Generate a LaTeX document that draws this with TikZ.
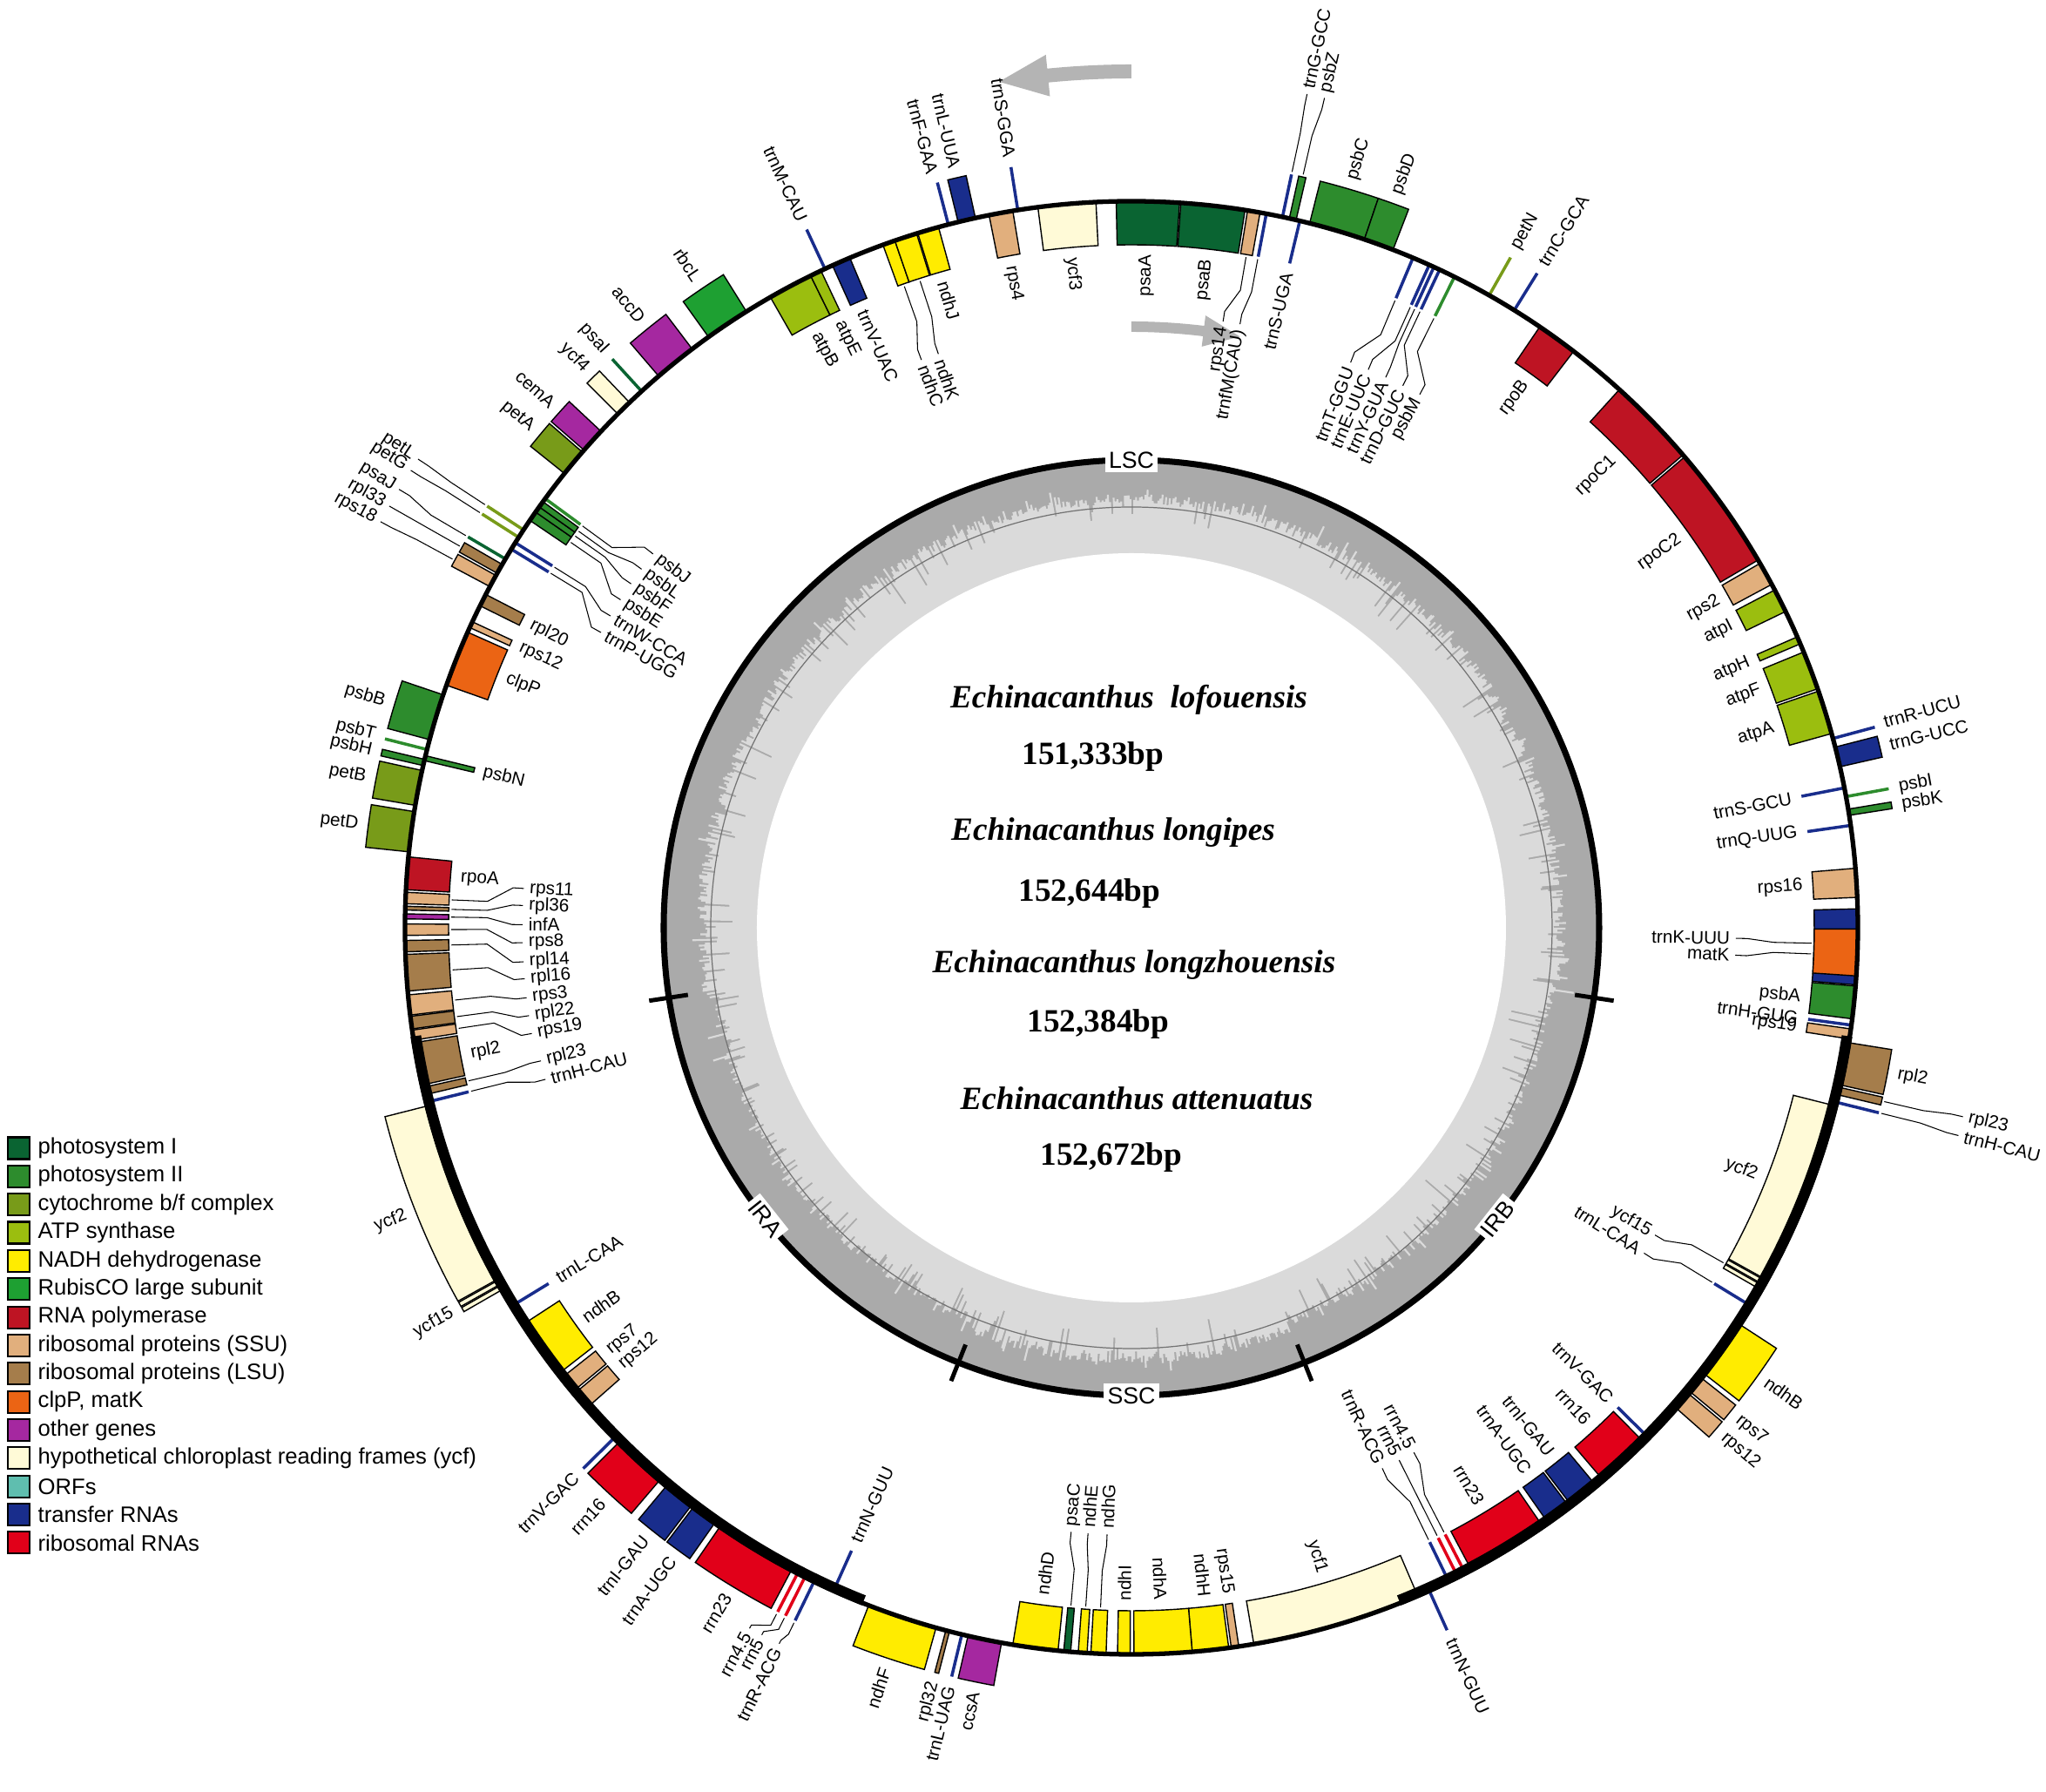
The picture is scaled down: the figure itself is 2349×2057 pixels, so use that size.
\documentclass[tikz,border=0pt]{standalone}
\usepackage{fontspec}
\setmainfont{Liberation Sans}
\newfontfamily\tnrfont{Liberation Serif}
\definecolor{cPSI}{RGB}{10,100,50}
\definecolor{cPSII}{RGB}{45,140,45}
\definecolor{cCYT}{RGB}{120,155,25}
\definecolor{cATP}{RGB}{155,190,15}
\definecolor{cNDH}{RGB}{255,236,0}
\definecolor{cRBC}{RGB}{30,160,50}
\definecolor{cRPO}{RGB}{190,20,35}
\definecolor{cSSU}{RGB}{225,175,125}
\definecolor{cLSU}{RGB}{165,125,75}
\definecolor{cCLP}{RGB}{235,100,20}
\definecolor{cOTH}{RGB}{165,40,160}
\definecolor{cYCF}{RGB}{255,250,215}
\definecolor{cORF}{RGB}{95,190,175}
\definecolor{cTRN}{RGB}{25,45,140}
\definecolor{cRRN}{RGB}{225,0,25}
\definecolor{gcdark}{RGB}{170,170,170}
\definecolor{gclight}{RGB}{218,218,218}
\definecolor{arrgray}{RGB}{180,180,180}
\tikzset{
 gbox/.style={draw=black,line width=0.4pt},
 gline/.style={line width=1pt},
 glead/.style={draw=black,line width=0.3pt},
 glab/.style={font=\fontsize{5.9}{6}\selectfont,inner sep=0.6pt},
 reglab/.style={font=\fontsize{7.6}{8}\selectfont,fill=white,inner sep=1.2pt},
 legbox/.style={draw=black,line width=0.6pt},
 legtxt/.style={font=\fontsize{7.3}{8}\selectfont,anchor=west,inner sep=0pt},
 sptxt/.style={font=\tnrfont\bfseries\itshape\fontsize{10.6}{12}\selectfont},
 bptxt/.style={font=\tnrfont\bfseries\fontsize{10.6}{12}\selectfont},
}
% gene box with explicit radii
\newcommand\gnBr[5]{\filldraw[gbox,fill=#5] ({90-(#1)}:#3) arc[start angle={90-(#1)},end angle={90-(#2)},radius=#3] -- ({90-(#2)}:#4) arc[start angle={90-(#2)},end angle={90-(#1)},radius=#4] -- cycle;}
% gene box: start, end, side (o/i), colour
\newcommand\gnB[4]{\ifx o#3\relax\gnBr{#1}{#2}{834}{884}{#4}\else\gnBr{#1}{#2}{784}{834}{#4}\fi}
% gene line: angle, side, colour
\newcommand\gnL[3]{\ifx o#2\relax\draw[gline,#3] ({90-(#1)}:836) -- ({90-(#1)}:884);\else\draw[gline,#3] ({90-(#1)}:784) -- ({90-(#1)}:832);\fi}
% label at angle, radius, side, text
\newcommand\lbAt[4]{%
 \pgfmathsetmacro\gTh{mod(#1+720,360)}%
 \pgfmathsetmacro\gRot{\gTh<180 ? 90-\gTh : 270-\gTh}%
 \ifx o#3\relax\def\gSd{1}\else\def\gSd{0}\fi
 \pgfmathtruncatemacro\gW{(\gTh<180)==\gSd}%
 \ifnum\gW=1 \def\gAn{west}\else\def\gAn{east}\fi
 \node[glab,rotate=\gRot,anchor=\gAn] at ({90-(#1)}:#2) {#4};}
% direct label
\newcommand\lbD[3]{\ifx o#2\relax\lbAt{#1}{893}{o}{#3}\else\lbAt{#1}{775}{i}{#3}\fi}
% leader label: gene angle, side, label angle, label radius, text
\newcommand\lbL[5]{%
 \ifx o#2\relax\def\gRz{887}\pgfmathsetmacro\gRt{#4-4}\else\def\gRz{781}\pgfmathsetmacro\gRt{#4+4}\fi
 \pgfmathsetmacro\gRi{\gRz+0.5*(\gRt-\gRz)}%
 \pgfmathsetmacro\gRj{\gRz+0.85*(\gRt-\gRz)}%
 \draw[glead] ({90-(#1)}:\gRz) -- ({90-(#1)}:\gRi) -- ({90-(#3)}:\gRj) -- ({90-(#3)}:\gRt);
 \lbAt{#3}{#4}{#2}{#5}}
\begin{document}
\begin{tikzpicture}[x=0.1mm,y=0.1mm]
\useasboundingbox (-1299,-992) rectangle (1050,1065);
% ---------- GC ring ----------
\pgfmathsetseed{11}
\fill[gcdark] (0,0) circle[radius=537];
\fill[gclight] (90:493) \foreach \t in {0,0.25,...,359.75}{ \pgfextra{\pgfmathsetmacro\gcrtmp{493-8*((\t>98.6)*(\t<158.3)+(\t>201.7)*(\t<261.4))+2*(\t>158.3)*(\t<201.7)+6*rand-36*rnd^9+16*rnd^14}\xdef\gcr{\gcrtmp}} -- ({90-\t}:\gcr) -- ({90-\t-0.25}:\gcr) } -- cycle;
\fill[white] (0,0) circle[radius=430];
\draw[black!55,line width=0.35pt] (0,0) circle[radius=483];
\draw[line width=2pt] (0,0) circle[radius=537];
\foreach \a in {98.6,158.3,201.7,261.4} \draw[line width=1.4pt] ({90-\a}:515) -- ({90-\a}:560);
\node[reglab] at (90:537) {LSC};
\node[reglab] at (-90:537) {SSC};
\node[reglab,rotate=-51.55] at ({90-231.55}:537) {IRA};
\node[reglab,rotate=51.55] at ({90-128.45}:537) {IRB};
% ---------- arrows ----------
\fill[arrgray] (90:975) arc[start angle=90,end angle=95.6,radius=975] -- (95.6:959) -- (98.9:983) -- (95.6:1007) -- (95.6:991) arc[start angle=95.6,end angle=90,radius=991] -- cycle;
\fill[arrgray] (90:684) arc[start angle=90,end angle=83.1,radius=684] -- (83.1:672) -- (79.6:690) -- (83.1:708) -- (83.1:696) arc[start angle=83.1,end angle=90,radius=696] -- cycle;
% ---------- LSC right ----------
\gnB{-1.2}{3.8}{i}{cPSI} \lbD{1.3}{i}{psaA}
\gnB{3.9}{9.0}{i}{cPSI} \lbD{6.45}{i}{psaB}
\gnB{9.2}{10.2}{i}{cSSU} \lbL{9.7}{i}{8.6}{700}{rps14}
\gnL{10.7}{i}{cTRN} \lbL{10.7}{i}{10.2}{700}{trnfM(CAU)}
\gnL{12.0}{o}{cTRN} \lbL{12.0}{o}{11.9}{982}{trnG-GCC}
\gnB{12.55}{13.1}{o}{cPSII} \lbL{12.85}{o}{13.1}{982}{psbZ}
\gnL{13.4}{i}{cTRN} \lbD{13.4}{i}{trnS-UGA}
\gnB{14.2}{18.7}{o}{cPSII} \lbD{16.45}{o}{psbC}
\gnB{18.7}{21.1}{o}{cPSII} \lbD{19.9}{o}{psbD}
\gnL{22.8}{i}{cTRN} \lbL{22.8}{i}{21.2}{692}{trnT-GGU}
\gnL{24.2}{i}{cTRN} \lbL{24.2}{i}{23.0}{692}{trnE-UUC}
\gnL{24.6}{i}{cTRN} \lbL{24.6}{i}{24.8}{692}{trnY-GUA}
\gnL{25.1}{i}{cTRN} \lbL{25.1}{i}{26.6}{692}{trnD-GUC}
\gnL{26.4}{i}{cPSII} \lbL{26.4}{i}{28.4}{692}{psbM}
\gnL{29.5}{o}{cCYT} \lbD{29.5}{o}{petN}
\gnL{31.8}{o}{cTRN} \lbD{31.8}{o}{trnC-GCA}
\gnB{34.2}{37.5}{i}{cRPO} \lbD{35.85}{i}{rpoB}
\gnB{42.2}{49.4}{i}{cRPO} \lbD{45.8}{i}{rpoC1}
\gnB{49.6}{59.6}{i}{cRPO} \lbD{54.6}{i}{rpoC2}
\gnB{59.9}{61.8}{i}{cSSU} \lbD{60.85}{i}{rps2}
\gnB{62.3}{64.2}{i}{cATP} \lbD{63.25}{i}{atpI}
\gnB{66.4}{67.0}{i}{cATP} \lbD{66.7}{i}{atpH}
\gnB{67.7}{70.8}{i}{cATP} \lbD{69.25}{i}{atpF}
\gnB{71.0}{74.5}{i}{cATP} \lbD{72.75}{i}{atpA}
\gnL{74.9}{o}{cTRN} \lbD{74.7}{o}{trnR-UCU}
\gnB{75.6}{77.2}{o}{cTRN} \lbD{76.4}{o}{trnG-UCC}
\gnL{78.9}{i}{cTRN} \lbD{78.9}{i}{trnS-GCU}
\gnL{79.6}{o}{cPSII} \lbD{79.6}{o}{psbI}
\gnB{80.6}{81.1}{o}{cPSII} \lbD{80.9}{o}{psbK}
\gnL{81.9}{i}{cTRN} \lbD{81.9}{i}{trnQ-UUG}
\gnB{85.3}{87.6}{i}{cSSU} \lbD{86.45}{i}{rps16}
\gnB{88.5}{94.5}{i}{cTRN} \gnB{90.1}{93.8}{i}{cCLP}
\lbL{91.3}{i}{91.0}{690}{trnK-UUU} \lbL{92.2}{i}{92.6}{690}{matK}
\gnB{94.6}{97.2}{i}{cPSII} \lbD{95.9}{i}{psbA}
\gnL{97.7}{i}{cTRN} \lbD{97.7}{i}{trnH-GUG}
\gnB{98.0}{98.8}{i}{cSSU} \lbD{98.5}{i}{rps19}
% ---------- IRb ----------
\gnB{99.1}{102.5}{o}{cLSU} \lbD{100.8}{o}{rpl2}
\gnB{102.7}{103.3}{o}{cLSU} \lbL{103.0}{o}{102.8}{983}{rpl23}
\gnL{103.9}{o}{cTRN} \lbL{103.9}{o}{104.1}{983}{trnH-CAU}
\gnB{104.2}{119.0}{i}{cYCF} \lbD{111.6}{i}{ycf2}
\gnB{119.1}{119.45}{i}{cYCF} \gnB{119.55}{119.9}{i}{cYCF}
\lbL{119.5}{i}{120.4}{693}{ycf15}
\gnL{121.4}{i}{cTRN} \lbL{121.4}{i}{122.4}{693}{trnL-CAA}
\gnB{123.1}{127.9}{o}{cNDH} \lbD{125.5}{o}{ndhB}
\gnB{128.3}{129.7}{o}{cSSU} \lbD{129.0}{o}{rps7}
\gnB{129.9}{131.4}{o}{cSSU} \lbD{130.65}{o}{rps12}
\gnL{134.6}{i}{cTRN} \lbD{134.6}{i}{trnV-GAC}
\gnB{135.1}{139.5}{i}{cRRN} \lbD{137.3}{i}{rrn16}
\gnB{140.2}{142.7}{i}{cTRN} \lbD{141.45}{i}{trnI-GAU}
\gnB{142.9}{145.0}{i}{cTRN} \lbD{143.95}{i}{trnA-UGC}
\gnB{145.5}{152.1}{i}{cRRN} \lbD{148.8}{i}{rrn23}
\gnL{152.65}{i}{cRRN} \lbL{152.65}{i}{151.7}{680}{rrn4.5}
\gnL{153.3}{i}{cRRN} \lbL{153.3}{i}{153.3}{680}{rrn5}
\gnL{154.1}{i}{cTRN} \lbL{154.1}{i}{155.1}{680}{trnR-ACG}
\gnL{155.8}{o}{cTRN} \lbD{155.8}{o}{trnN-GUU}
% ---------- SSC ----------
\gnB{156.8}{170.3}{i}{cYCF} \lbD{163.55}{i}{ycf1}
\gnB{171.5}{172.1}{i}{cSSU} \lbD{171.8}{i}{rps15}
\gnB{172.3}{175.2}{i}{cNDH} \lbD{173.75}{i}{ndhH}
\gnB{175.2}{179.8}{i}{cNDH} \lbD{177.5}{i}{ndhA}
\gnB{180.1}{181.1}{i}{cNDH} \lbD{180.6}{i}{ndhI}
\gnB{182.0}{183.2}{i}{cNDH} \lbL{182.6}{i}{182.3}{693}{ndhG}
\gnB{183.5}{184.2}{i}{cNDH} \lbL{183.85}{i}{184.1}{693}{ndhE}
\gnB{184.8}{185.35}{i}{cPSI} \lbL{185.1}{i}{185.7}{693}{psaC}
\gnB{185.8}{189.4}{i}{cNDH} \lbD{187.6}{i}{ndhD}
\gnB{190.3}{193.0}{o}{cOTH} \lbD{191.65}{o}{ccsA}
\gnL{193.5}{o}{cTRN} \lbD{193.5}{o}{trnL-UAG}
\gnB{194.5}{194.8}{o}{cLSU} \lbD{194.7}{o}{rpl32}
\gnB{195.6}{201.2}{o}{cNDH} \lbD{198.4}{o}{ndhF}
% ---------- IRa ----------
\gnL{204.2}{i}{cTRN} \lbD{204.2}{i}{trnN-GUU}
\gnL{205.9}{o}{cTRN} \lbL{205.9}{o}{206.2}{920}{trnR-ACG}
\gnL{206.7}{o}{cRRN} \lbL{206.7}{o}{207.6}{920}{rrn5}
\gnL{207.35}{o}{cRRN} \lbL{207.35}{o}{208.6}{920}{rrn4.5}
\gnB{207.9}{214.5}{o}{cRRN} \lbD{211.2}{o}{rrn23}
\gnB{215.0}{217.1}{o}{cTRN} \lbD{216.05}{o}{trnA-UGC}
\gnB{217.3}{219.8}{o}{cTRN} \lbD{218.55}{o}{trnI-GAU}
\gnB{220.5}{224.9}{o}{cRRN} \lbD{222.7}{o}{rrn16}
\gnL{225.4}{o}{cTRN} \lbD{225.4}{o}{trnV-GAC}
\gnB{228.6}{230.1}{i}{cSSU} \lbD{229.35}{i}{rps12}
\gnB{230.3}{231.7}{i}{cSSU} \lbD{231.0}{i}{rps7}
\gnB{232.1}{236.9}{i}{cNDH} \lbD{234.5}{i}{ndhB}
\gnL{238.6}{i}{cTRN} \lbD{238.6}{i}{trnL-CAA}
\gnB{240.1}{240.45}{o}{cYCF} \gnB{240.55}{240.9}{o}{cYCF} \lbD{240.5}{o}{ycf15}
\gnB{241.0}{255.8}{o}{cYCF} \lbD{248.4}{o}{ycf2}
\gnL{256.1}{i}{cTRN} \lbL{256.1}{i}{255.5}{691}{trnH-CAU}
\gnB{256.7}{257.3}{i}{cLSU} \lbL{257.0}{i}{257.3}{691}{rpl23}
\gnB{257.5}{260.9}{i}{cLSU} \lbD{259.2}{i}{rpl2}
% ---------- LSC left ----------
\gnB{-98.9}{-98.1}{i}{cSSU} \lbL{-98.5}{i}{-100.0}{695}{rps19}
\gnB{-98.0}{-97.0}{i}{cLSU} \lbL{-97.5}{i}{-98.3}{695}{rpl22}
\gnB{-96.9}{-95.3}{i}{cSSU} \lbL{-96.1}{i}{-96.6}{695}{rps3}
\gnB{-95.0}{-92.1}{i}{cLSU} \lbL{-93.55}{i}{-94.8}{695}{rpl16}
\gnB{-91.9}{-91.0}{i}{cLSU} \lbL{-91.45}{i}{-93.2}{695}{rpl14}
\gnB{-90.6}{-89.7}{i}{cSSU} \lbL{-90.15}{i}{-91.4}{695}{rps8}
\gnB{-89.3}{-88.9}{i}{cOTH} \lbL{-89.1}{i}{-89.7}{695}{infA}
\gnB{-88.6}{-88.3}{i}{cLSU} \lbL{-88.45}{i}{-87.9}{695}{rpl36}
\gnB{-88.1}{-87.2}{i}{cSSU} \lbL{-87.65}{i}{-86.3}{695}{rps11}
\gnB{-87.0}{-84.4}{i}{cRPO} \lbD{-85.7}{i}{rpoA}
\gnB{-84.0}{-80.8}{o}{cCYT} \lbD{-82.4}{o}{petD}
\gnB{-80.3}{-77.5}{o}{cCYT} \lbD{-78.9}{o}{petB}
\gnB{-77.1}{-76.6}{o}{cPSII} \lbD{-76.85}{o}{psbH}
\gnBr{-76.7}{-76.3}{776}{834}{cPSII} \lbAt{-76.5}{768}{i}{psbN}
\gnL{-75.8}{o}{cPSII} \lbD{-75.7}{o}{psbT}
\gnB{-75.0}{-71.3}{o}{cPSII} \lbD{-73.15}{o}{psbB}
\gnB{-70.5}{-66.0}{i}{cCLP} \lbD{-68.25}{i}{clpP}
\gnB{-65.6}{-65.1}{i}{cSSU} \lbD{-65.35}{i}{rps12}
\gnB{-63.7}{-62.7}{i}{cLSU} \lbD{-63.2}{i}{rpl20}
\gnB{-62.0}{-61.0}{o}{cSSU} \lbL{-61.5}{o}{-61.6}{984}{rps18}
\gnB{-60.8}{-60.0}{o}{cLSU} \lbL{-60.4}{o}{-60.4}{984}{rpl33}
\gnL{-59.5}{o}{cPSI} \lbL{-59.5}{o}{-59.1}{984}{psaJ}
\gnL{-58.6}{i}{cTRN} \lbL{-58.6}{i}{-60.9}{693}{trnP-UGG}
\gnL{-58.0}{i}{cTRN} \lbL{-58.0}{i}{-59.1}{693}{trnW-CCA}
\gnL{-57.5}{o}{cCYT} \lbL{-57.5}{o}{-57.6}{984}{petG}
\gnL{-56.8}{o}{cCYT} \lbL{-56.8}{o}{-56.7}{984}{petL}
\gnB{-55.9}{-55.1}{i}{cPSII} \lbL{-55.5}{i}{-57.3}{693}{psbE}
\gnB{-55.1}{-54.6}{i}{cPSII} \lbL{-54.85}{i}{-55.5}{693}{psbF}
\gnB{-54.6}{-54.1}{i}{cPSII} \lbL{-54.35}{i}{-53.8}{693}{psbL}
\gnL{-53.8}{i}{cPSII} \lbL{-53.8}{i}{-52.0}{693}{psbJ}
\gnB{-51.3}{-49.1}{o}{cCYT} \lbD{-50.2}{o}{petA}
\gnB{-48.9}{-46.9}{o}{cOTH} \lbD{-47.9}{o}{cemA}
\gnB{-45.0}{-43.7}{o}{cYCF} \lbD{-44.35}{o}{ycf4}
\gnL{-42.4}{o}{cPSI} \lbD{-42.4}{o}{psaI}
\gnB{-40.6}{-37.2}{o}{cOTH} \lbD{-38.9}{o}{accD}
\gnB{-35.6}{-32.0}{o}{cRBC} \lbD{-33.8}{o}{rbcL}
\gnB{-29.8}{-26.2}{i}{cATP} \lbD{-28.0}{i}{atpB}
\gnB{-26.2}{-25.3}{i}{cATP} \lbD{-25.75}{i}{atpE}
\gnL{-24.95}{o}{cTRN} \lbD{-24.95}{o}{trnM-CAU}
\gnB{-24.3}{-22.8}{i}{cTRN} \lbD{-23.55}{i}{trnV-UAC}
\gnB{-20.0}{-19.0}{i}{cNDH} \lbL{-19.5}{i}{-20.3}{691}{ndhC}
\gnB{-19.0}{-17.2}{i}{cNDH} \lbL{-18.1}{i}{-18.6}{691}{ndhK}
\gnB{-17.1}{-15.4}{i}{cNDH} \lbD{-16.25}{i}{ndhJ}
\gnL{-14.6}{o}{cTRN} \lbD{-14.8}{o}{trnF-GAA}
\gnB{-13.8}{-12.4}{o}{cTRN} \lbD{-13.1}{o}{trnL-UUA}
\gnB{-11.3}{-9.4}{i}{cSSU} \lbD{-10.35}{i}{rps4}
\gnL{-9.0}{o}{cTRN} \lbD{-9.0}{o}{trnS-GGA}
\gnB{-7.4}{-2.8}{i}{cYCF} \lbD{-5.1}{i}{ycf3}
% ---------- main circle ----------
\draw[line width=1.5pt] (0,0) circle[radius=834];
\draw[line width=3.5pt] ({90-98.6}:831) arc[start angle={90-98.6},end angle={90-158.3},radius=831];
\draw[line width=3.5pt] ({90-201.7}:831) arc[start angle={90-201.7},end angle={90-261.4},radius=831];
% ---------- centre text ----------
\node[sptxt] (sp1) at (-3,262) {Echinacanthus\ \ lofouensis};
\node[bptxt] (bp1) at (-44,196) {151,333bp};
\node[sptxt] (sp2) at (-21,109) {Echinacanthus longipes};
\node[bptxt] (bp2) at (-48,39) {152,644bp};
\node[sptxt] (sp3) at (3,-43) {Echinacanthus longzhouensis};
\node[bptxt] (bp3) at (-38,-111) {152,384bp};
\node[sptxt] (sp4) at (6,-196) {Echinacanthus attenuatus};
\node[bptxt] (bp4) at (-23,-264) {152,672bp};
% ---------- legend ----------
\foreach \c/\lt [count=\i from 0] in {cPSI/photosystem I,cPSII/photosystem II,cCYT/{cytochrome b/f complex},cATP/ATP synthase,cNDH/NADH dehydrogenase,cRBC/RubisCO large subunit,cRPO/RNA polymerase,cSSU/ribosomal proteins (SSU),cLSU/ribosomal proteins (LSU),cCLP/{clpP, matK},cOTH/other genes,cYCF/hypothetical chloroplast reading frames (ycf),cORF/ORFs,cTRN/transfer RNAs,cRRN/ribosomal RNAs}{
 \draw[legbox,fill=\c] (-1290,{-253-32.35*\i-12.5}) rectangle (-1265,{-253-32.35*\i+12.5});
 \node[legtxt] (leg\i) at (-1256,{-253-32.35*\i}) {\lt};
}
\end{tikzpicture}
\end{document}
